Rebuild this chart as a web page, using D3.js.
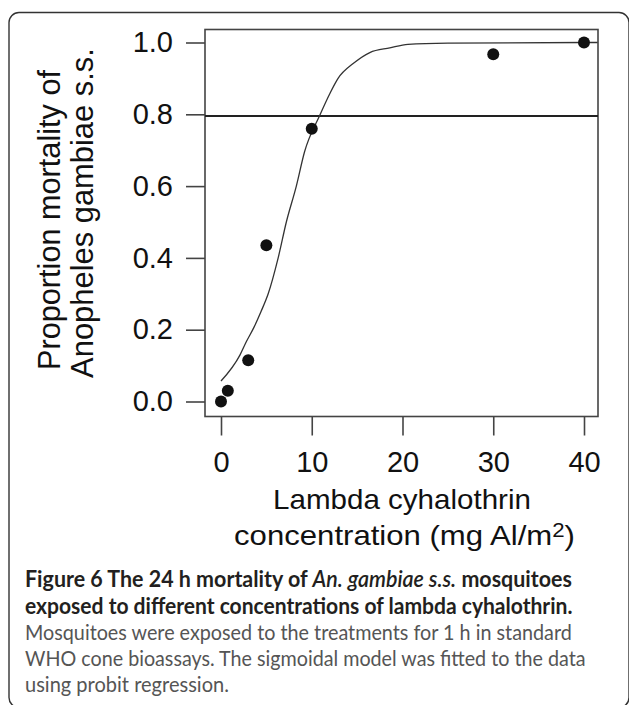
<!DOCTYPE html>
<html>
<head>
<meta charset="utf-8">
<script src="https://cdn.jsdelivr.net/npm/d3@7"></script>
<style>
body{margin:0;background:#fff;}
svg{display:block;}
</style>
</head>
<body>
<div id="chart"></div>
<script>
var doses=[0,0.75,3,5,10,30,40];
var mortality=[0,0.03,0.115,0.435,0.76,0.967,1.0];
var fitDose=[0,2.1,2.8,3.6,4.4,5.2,6.3,7.2,8.3,9.2,10.9,12,12.9,14.6,16.4,18.6,20.6,25,40,41.5];
var fitMort=[0.057,0.13,0.167,0.205,0.25,0.3,0.4,0.5,0.6,0.695,0.798,0.858,0.9,0.942,0.972,0.985,0.995,0.998,1.0,1.0];
var xTicks=[0,10,20,30,40];
var yTicks=[0,0.2,0.4,0.6,0.8,1.0];
var cutoff=[0.795];
var yTitle=["Proportion mortality of","Anopheles gambiae s.s."];
var xTitle=["Lambda cyhalothrin","concentration (mg Al/m"];
var caption=[
  [["Figure 6 The 24 h mortality of ","b"],["An. gambiae s.s.","i"],[" mosquitoes","b"]],
  [["exposed to different concentrations of lambda cyhalothrin.","b"]],
  [["Mosquitoes were exposed to the treatments for 1 h in standard","r"]],
  [["WHO cone bioassays. The sigmoidal model was fitted to the data","r"]],
  [["using probit regression.","r"]]
];

var wide=629;
var high=705;
var boxL=205,boxR=598,boxT=29.5,boxB=416.5;
var tick=19;
var svg=d3
  .select("#chart")
  .append("svg")
  .attr("width",wide)
  .attr("height",high);

// squeeze a text to the width
function fit(t,x,y,w,rot){
  var len=t.node().getComputedTextLength();
  t.attr("x",0).attr("y",0)
    .attr("transform","translate("+x+","+y+")"+(rot?" rotate(-90)":"")+" scale("+(w/len)+",1)");
}

svg.append("rect")
  .attr("x",9).attr("y",12.5)
  .attr("width",620).attr("height",695)
  .attr("rx",10)
  .attr("fill","none")
  .attr("stroke","#333")
  .attr("stroke-width",1.4);

var xscale=d3.scaleLinear().domain([0,40]).range([221,584]);
var yscale=d3.scaleLinear().domain([0,1]).range([401.5,42.5]);

var xaxis=d3.axisBottom(xscale).tickValues(xTicks).tickSize(tick).tickPadding(16).tickFormat(d3.format("d"));
var yaxis=d3.axisLeft(yscale).tickValues(yTicks).tickSize(tick).tickPadding(13).tickFormat(d3.format(".1f"));

var gx=svg.append("g")
  .attr("class","xAxis")
  .attr("transform","translate(0,"+boxB+")")
  .call(xaxis);
var gy=svg.append("g")
  .attr("class","yAxis")
  .attr("transform","translate("+boxL+",0)")
  .call(yaxis);
[gx,gy].forEach(function(g){
  g.select(".domain").remove();
  g.selectAll(".tick line").attr("stroke","#444").attr("stroke-width",1.6);
  g.selectAll(".tick text")
    .attr("fill","#111")
    .style("font-family","'Liberation Sans', Arial, sans-serif")
    .style("font-size","29px");
});

svg.append("rect")
  .attr("x",boxL).attr("y",boxT)
  .attr("width",boxR-boxL).attr("height",boxB-boxT)
  .attr("fill","none")
  .attr("stroke","#444")
  .attr("stroke-width",1.6);

svg.selectAll(".cut")
  .data(cutoff)
  .enter()
  .append("line")
  .attr("class","cut")
  .attr("x1",boxL).attr("x2",boxR)
  .attr("y1",function(d){return yscale(d);})
  .attr("y2",function(d){return yscale(d);})
  .attr("stroke","#222")
  .attr("stroke-width",2);

var fit_pts=fitDose.map(function(d,i){return [d,fitMort[i]];});
var line=d3.line()
  .x(function(d){return xscale(d[0]);})
  .y(function(d){return yscale(d[1]);})
  .curve(d3.curveMonotoneX);
svg.append("path")
  .datum(fit_pts)
  .attr("d",line)
  .attr("fill","none")
  .attr("stroke","#333")
  .attr("stroke-width",1.3);

svg.selectAll(".pt")
  .data(doses)
  .enter()
  .append("circle")
  .attr("class","pt")
  .attr("cx",function(d){return xscale(d);})
  .attr("cy",function(d,i){return yscale(mortality[i]);})
  .attr("r",6)
  .attr("fill","#111");

var yt1=svg.append("text")
  .attr("text-anchor","middle")
  .style("font-family","'Liberation Sans', Arial, sans-serif")
  .style("font-size","31px")
  .attr("fill","#111")
  .text(yTitle[0]);
fit(yt1,60,220,300,true);
var yt2=svg.append("text")
  .attr("text-anchor","middle")
  .style("font-family","'Liberation Sans', Arial, sans-serif")
  .style("font-size","31px")
  .attr("fill","#111")
  .text(yTitle[1]);
fit(yt2,93,213,330,true);

var xt1=svg.append("text")
  .attr("text-anchor","middle")
  .style("font-family","'Liberation Sans', Arial, sans-serif")
  .style("font-size","28px")
  .attr("fill","#111")
  .text(xTitle[0]);
fit(xt1,402,509,258,false);
var xt2=svg.append("text")
  .attr("text-anchor","middle")
  .style("font-family","'Liberation Sans', Arial, sans-serif")
  .style("font-size","28px")
  .attr("fill","#111");
xt2.append("tspan").text(xTitle[1]);
xt2.append("tspan").attr("dy",-8).style("font-size","20px").text("2");
xt2.append("tspan").attr("dy",8).text(")");
fit(xt2,404.5,545,341,false);

var capBase=[587,614,640,666,692];
var capWide=[547,548,547,561,204];
caption.forEach(function(parts,i){
  var t=svg.append("text")
    .style("font-family","Lato, 'Open Sans', sans-serif")
    .style("font-size","22px");
  parts.forEach(function(p){
    var s=t.append("tspan").text(p[0]);
    if (p[1]==="b"){
      s.attr("font-weight","bold").attr("fill","#231f20");
    }
    else if (p[1]==="i"){
      s.attr("font-style","italic").attr("font-weight","600").attr("fill","#231f20");
    }
    else{
      s.attr("fill","#555");
    }
  });
  fit(t,25,capBase[i],capWide[i],false);
});
</script>
</body>
</html>
